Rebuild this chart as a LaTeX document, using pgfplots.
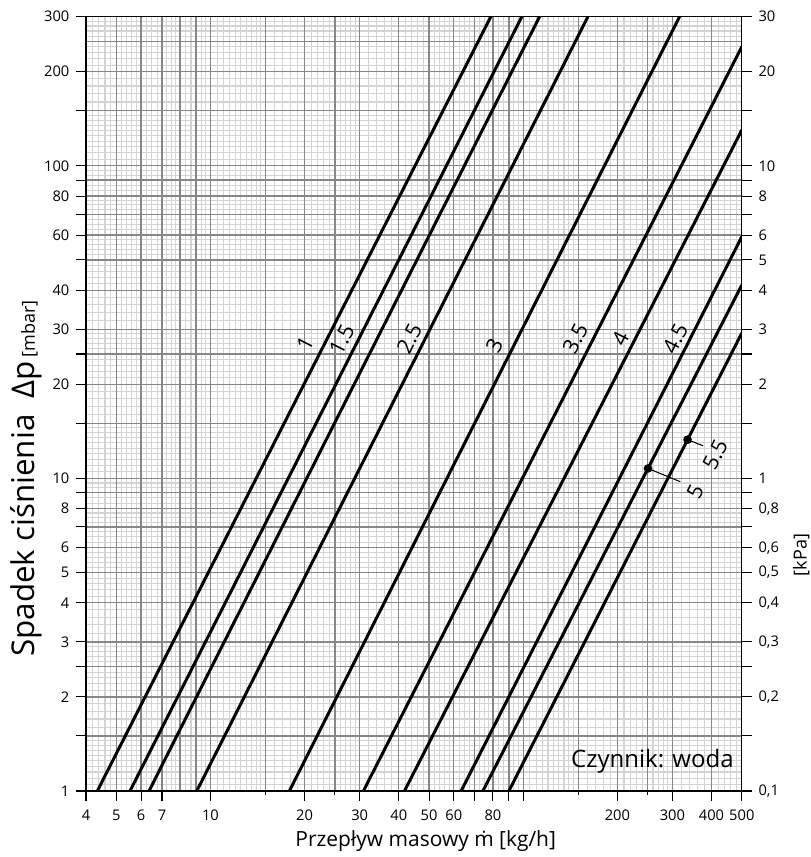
\documentclass[border=0pt]{standalone}
\usepackage{fontspec}
\setmainfont{Open Sans}
\usepackage{pgfplots}
\pgfplotsset{compat=1.18}
\definecolor{gmaj}{RGB}{135,135,135}
\definecolor{gmin}{RGB}{212,212,212}
\newcommand{\lbl}{\fontsize{16}{18}\selectfont}
\begin{document}
\begin{tikzpicture}
\path[use as bounding box] (-64.5pt,-49.5pt) rectangle (543pt,593.2pt);
% ---------------- minor (light) grid ----------------
\begin{axis}[width=491.8pt,height=580.7pt,scale only axis,
  xmode=log,ymode=log,xmin=4,xmax=500,ymin=1,ymax=300,
  axis line style={draw=none},
  xtick={4.2,4.4,4.6,4.8,5.2,5.4,5.6,5.8,6.25,6.5,6.75,7.25,7.5,7.75,8.333,8.667,9.333,9.667,
    10.5,11,11.5,12,12.5,13,13.5,14,14.5,16,17,18,19,21,22,23,24,26,27,28,29,32,34,36,38,42,44,46,48,52,54,56,58,62.5,65,67.5,72.5,75,77.5,83.33,86.67,93.33,96.67,
    105,110,115,120,125,130,135,140,145,160,170,180,190,210,220,230,240,260,270,280,290,320,340,360,380,420,440,460,480},
  ytick={1.05,1.1,1.15,1.2,1.25,1.3,1.35,1.4,1.45,1.6,1.7,1.8,1.9,2.1,2.2,2.3,2.4,2.6,2.7,2.8,2.9,3.2,3.4,3.6,3.8,4.2,4.4,4.6,4.8,5.2,5.4,5.6,5.8,6.25,6.5,6.75,7.25,7.5,7.75,8.333,8.667,9.333,9.667,
    10.5,11,11.5,12,12.5,13,13.5,14,14.5,16,17,18,19,21,22,23,24,26,27,28,29,32,34,36,38,42,44,46,48,52,54,56,58,62.5,65,67.5,72.5,75,77.5,83.33,86.67,93.33,96.67,
    105,110,115,120,125,130,135,140,145,160,170,180,190,210,220,230,240,260,270,280,290},
  grid=major,
  major grid style={draw=gmin,line width=0.8pt},
  xticklabels={},yticklabels={},
  major tick length=0pt,minor tick length=0pt]
\end{axis}
% ---------------- major grid ----------------
\begin{axis}[width=491.8pt,height=580.7pt,scale only axis,
  xmode=log,ymode=log,xmin=4,xmax=500,ymin=1,ymax=300,
  axis line style={line width=0.9pt,black},
  xtick={4,5,6,7,8,9,10,15,20,25,30,40,50,60,70,80,90,100,150,200,250,300,400,500},
  ytick={1,1.5,2,2.5,3,4,5,6,7,8,9,10,15,20,25,30,40,50,60,70,80,90,100,150,200,250,300},
  grid=major,
  major grid style={draw=gmaj,line width=1pt},
  xticklabels={},yticklabels={},
  major tick length=0pt,minor tick length=0pt]
\end{axis}
% ---------------- main data axis ----------------
\begin{axis}[width=491.8pt,height=580.7pt,scale only axis,
  xmode=log,ymode=log,xmin=4,xmax=500,ymin=1,ymax=300,
  axis line style={line width=0.9pt,black},
  tick pos=left, tick align=outside, major tick length=7.5pt, minor tick length=0pt,
  tick style={black,line width=0.8pt},
  xtick={4,5,6,7,10,20,30,40,50,60,70,80,90,100,200,300,400,500},
  xticklabels={4,5,6,7,10,20,30,40,50,60,,80,,,200,300,400,500},
  ytick={1,1.5,2,2.5,3,4,5,6,7,8,9,10,15,20,25,30,40,50,60,70,80,90,100,150,200,300},
  yticklabels={1,,2,,3,4,5,6,,8,,10,,20,,30,40,,60,,80,,100,,200,300},
  ticklabel style={font=\fontsize{11}{13}\selectfont},
  xticklabel style={yshift=-3pt},
  yticklabel style={xshift=-1.5pt},
  xlabel={\fontsize{15.7}{18}\selectfont Przepływ masowy \accent"02D9 m [kg/h]},
  xlabel style={at={(rel axis cs:0.518,-0.0719)},anchor=base},
  ylabel={{\fontsize{23.5}{26}\selectfont Spadek ciśnienia\ \ Δp}\ {\fontsize{13.5}{15}\selectfont[mbar]}},
  ylabel style={at={(rel axis cs:-0.0906,0.173)},anchor=west,inner sep=0pt}]
\addplot[black,solid,mark=none,line width=2.25pt] coordinates {(4.347,1) (78.8,300)};
\addplot[black,solid,mark=none,line width=2.25pt] coordinates {(5.531,1) (99.0,300)};
\addplot[black,solid,mark=none,line width=2.25pt] coordinates {(6.363,1) (112.8,300)};
\addplot[black,solid,mark=none,line width=2.25pt] coordinates {(9.041,1) (161.0,300)};
\addplot[black,solid,mark=none,line width=2.25pt] coordinates {(17.88,1) (316.2,300)};
\addplot[black,solid,mark=none,line width=2.25pt] coordinates {(30.84,1) (500,240.4)};
\addplot[black,solid,mark=none,line width=2.25pt] coordinates {(41.72,1) (500,130.2)};
\addplot[black,solid,mark=none,line width=2.25pt] coordinates {(63.33,1) (500,59.33)};
\addplot[black,solid,mark=none,line width=2.25pt] coordinates {(74.33,1) (500,41.56)};
\addplot[black,solid,mark=none,line width=2.25pt] coordinates {(90.0,1) (500,29.18)};
% leader lines and markers
\addplot[black,solid,mark=none,line width=0.8pt] coordinates {(250.6,10.76) (317.9,9.76)};
\addplot[black,solid,mark=none,line width=0.8pt] coordinates {(335.4,13.30) (375.7,12.72)};
\addplot[black,only marks,mark=*,mark size=3pt] coordinates {(250.6,10.76) (335.4,13.30)};
% line labels
\node[rotate=63,font=\lbl] at (axis cs:20.07,27.05) {1};
\node[rotate=63,font=\lbl] at (axis cs:26.31,27.71) {1.5};
\node[rotate=63,font=\lbl] at (axis cs:43.28,28.07) {2.5};
\node[rotate=63,font=\lbl] at (axis cs:80.8,26.5) {3};
\node[rotate=63,font=\lbl] at (axis cs:146.7,28.07) {3.5};
\node[rotate=63,font=\lbl] at (axis cs:204.3,28.07) {4};
\node[rotate=63,font=\lbl] at (axis cs:306.4,28.07) {4.5};
\node[rotate=63,font=\lbl] at (axis cs:355.1,9.07) {5};
\node[rotate=63,font=\lbl] at (axis cs:411.3,11.88) {5.5};
\node[font=\fontsize{18}{20}\selectfont] at (rel axis cs:0.8637,0.038) {Czynnik: woda};
\end{axis}
% ---------------- right kPa axis ----------------
\begin{axis}[width=491.8pt,height=580.7pt,scale only axis,
  xmode=log,ymode=log,xmin=4,xmax=500,ymin=0.1,ymax=30,
  axis y line*=right, hide x axis,
  axis line style={line width=0.9pt,black},
  tick align=outside, major tick length=7.5pt, minor tick length=0pt,
  tick style={black,line width=0.8pt},
  ytick={0.1,0.15,0.2,0.25,0.3,0.4,0.5,0.6,0.7,0.8,0.9,1,1.5,2,2.5,3,4,5,6,7,8,9,10,15,20,30},
  yticklabels={0{,}1,,0{,}2,,0{,}3,0{,}4,0{,}5,0{,}6,,0{,}8,,1,,2,,3,4,5,6,,8,,10,,20,30},
  yticklabel style={font=\fontsize{11}{13}\selectfont,xshift=1.5pt},
  ylabel={\fontsize{13.5}{15}\selectfont[kPa]},
  ylabel style={at={(rel axis cs:1.0904,0.3048)},anchor=center}]
\end{axis}
% ---------------- short x ticks ----------------
\begin{axis}[width=491.8pt,height=580.7pt,scale only axis,
  xmode=log,ymode=log,xmin=4,xmax=500,ymin=1,ymax=300,
  axis line style={line width=0.9pt,black},
  hide y axis, axis x line*=bottom,
  xtick={15,25,150,250}, xticklabels={},
  tick align=outside, major tick length=3pt, minor tick length=0pt,
  tick style={black,line width=0.8pt}]
\end{axis}
\end{tikzpicture}
\end{document}
